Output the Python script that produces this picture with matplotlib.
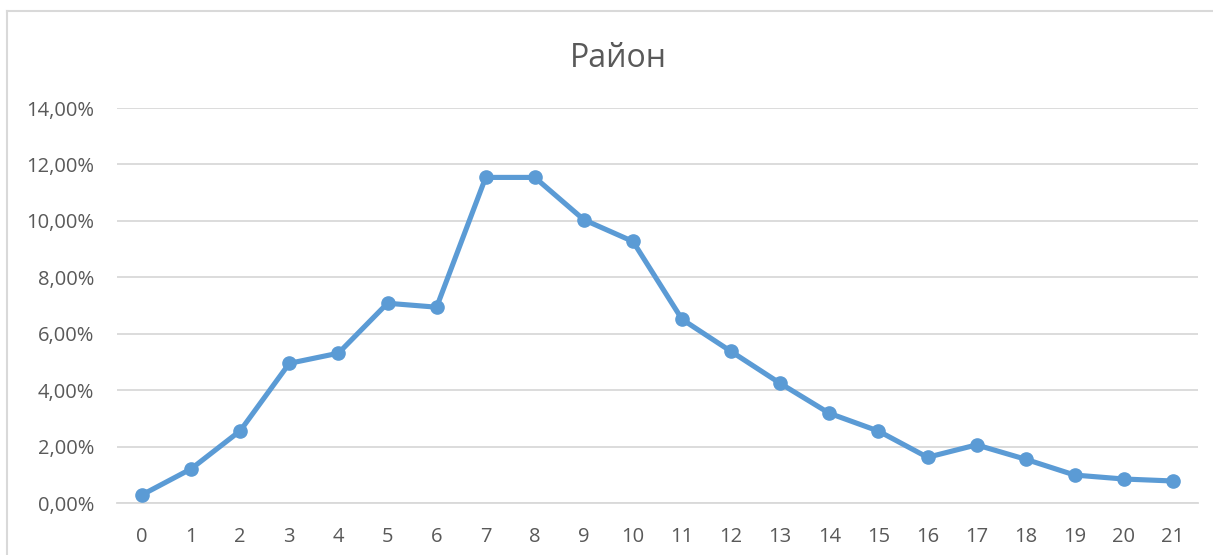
import matplotlib
matplotlib.use("Agg")
import matplotlib.pyplot as plt
from matplotlib.lines import Line2D
from matplotlib.ticker import FuncFormatter

# data
categories = [str(i) for i in range(22)]
values = [0.29, 1.21, 2.56, 4.95, 5.31, 7.08, 6.94, 11.54, 11.54, 10.04, 9.27,
          6.51, 5.37, 4.24, 3.18, 2.55, 1.62, 2.06, 1.55, 0.99, 0.85, 0.78]
y_ticks = [0, 2, 4, 6, 8, 10, 12, 14]
title = "Район"

plt.rcParams['font.family'] = ['Open Sans', 'DejaVu Sans']
W, H = 1213, 555
fig = plt.figure(figsize=(W / 100, H / 100), dpi=100)
fig.patch.set_facecolor("white")

ax = fig.add_axes([117.5 / W, 52 / H, 1080 / W, 395 / H])
x = list(range(len(categories)))
ax.plot(x, values, color="#5B9BD5", lw=3.7, marker="o", ms=9.5,
        solid_joinstyle="round", zorder=3, clip_on=False)

ax.set_xlim(-0.5, len(categories) - 0.5)
ax.set_ylim(0, 14)
ax.set_yticks(y_ticks)
ax.yaxis.set_major_formatter(FuncFormatter(lambda v, p: ("%.2f%%" % v).replace(".", ",")))
ax.set_xticks(x)
ax.set_xticklabels(categories)

ax.grid(axis="y", color="#D9D9D9", lw=1.3)
ax.set_axisbelow(True)
for s in ["top", "right", "left"]:
    ax.spines[s].set_visible(False)
ax.spines["bottom"].set_color("#D9D9D9")
ax.spines["bottom"].set_linewidth(1.3)
ax.tick_params(axis="both", length=0, labelsize=14.5, labelcolor="#595959")
ax.tick_params(axis="y", pad=17)
ax.tick_params(axis="x", pad=17)

fig.text(618 / W, 1 - 66.7 / H, title, ha="center", va="baseline",
         fontsize=23, color="#595959")

# chart border (only top and left visible in the crop)
fig.add_artist(Line2D([6.5 / W, 1.0], [1 - 10.5 / H, 1 - 10.5 / H],
                      transform=fig.transFigure, color="#D9D9D9", lw=1.5))
fig.add_artist(Line2D([6.5 / W, 6.5 / W], [0, 1 - 10.5 / H],
                      transform=fig.transFigure, color="#D9D9D9", lw=1.5))

fig.savefig("out.png", dpi=100)
